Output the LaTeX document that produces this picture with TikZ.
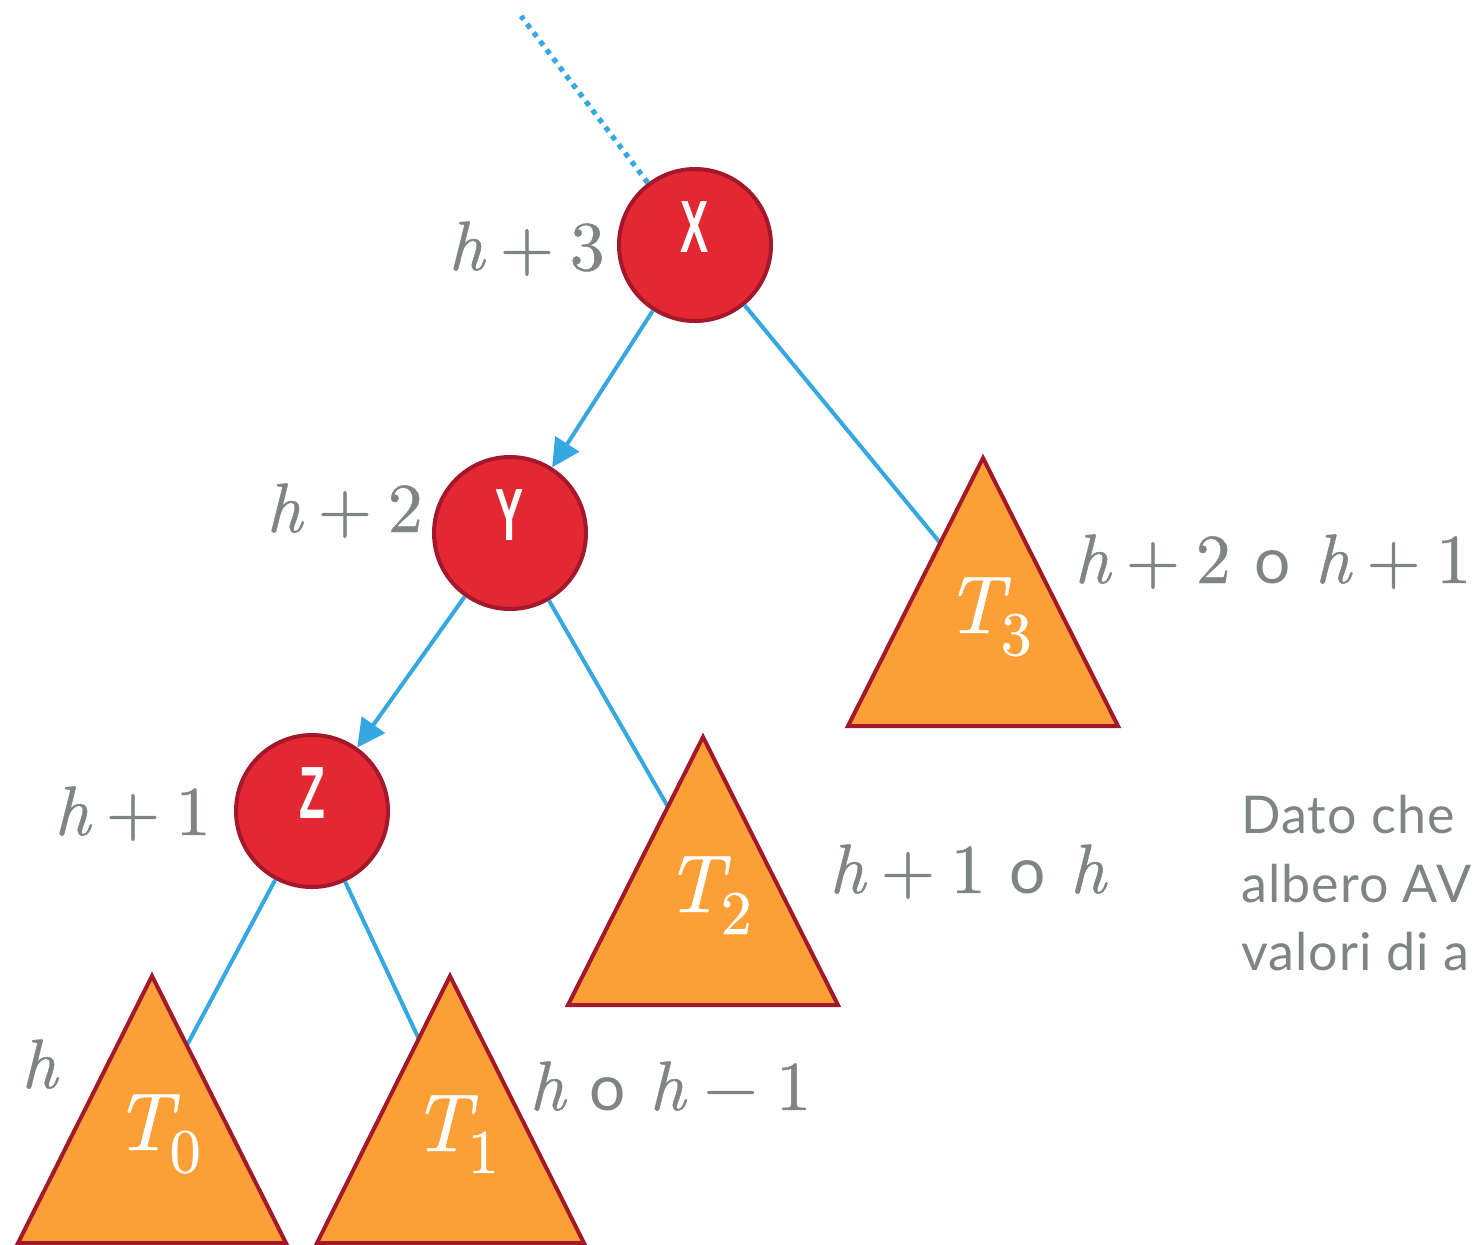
\documentclass[tikz,border=0pt]{standalone}
\usepackage{fontspec}
\usepackage{graphicx}
\newfontfamily\latofont{Lato}
\newfontfamily\notefont[LetterSpace=2]{Lato}
\newfontfamily\condfont{Liberation Sans}
\newfontfamily\labrm[FakeBold=0.6]{lmroman10-regular.otf}
\newfontfamily\labit[FakeBold=0.6]{lmroman10-italic.otf}
\usetikzlibrary{arrows.meta,calc}
\definecolor{nodered}{HTML}{E32733}
\definecolor{darkred}{HTML}{A3182A}
\definecolor{triorange}{HTML}{FC9F36}
\definecolor{edgeblue}{HTML}{35A8E0}
\definecolor{labgray}{HTML}{7F8485}
\newcommand\vlet[1]{\scalebox{0.57}[1]{#1}}
\newcommand\hh{{\labit h}}
\newcommand\pl{\hspace{0.222em}+\hspace{0.222em}}
\newcommand\mn{\hspace{0.26em}−\hspace{0.26em}}
\newcommand\orword{\hspace{12pt}{\latofont\fontsize{32}{32}\selectfont o}\hspace{12pt}}
\newcommand\tsub[1]{{\labit T}\kern-0.03em\raisebox{-11pt}{\fontsize{31}{31}\selectfont #1}}
\begin{document}
\begin{tikzpicture}[x=0.5pt,y=-0.5pt,
  vert/.style={circle, draw=darkred, fill=nodered, line width=2pt, minimum size=76pt, inner sep=0},
  vletter/.style={text=white, inner sep=0, font=\condfont\bfseries\fontsize{37}{37}\selectfont},
  tri/.style={draw=darkred, fill=triorange, line width=2pt, line join=miter},
  tlabel/.style={text=white, inner sep=0, anchor=base west, font=\labrm\fontsize{41}{41}\selectfont},
  hlabel/.style={text=labgray, inner sep=0, anchor=base west, font=\labrm\fontsize{35}{35}\selectfont},
  treeedge/.style={draw=edgeblue, line width=2pt},
  arrowedge/.style={treeedge, -{Triangle[length=14pt,width=14pt]}},
  dotedge/.style={draw=edgeblue, line width=2.6pt, dash pattern=on 2.6pt off 2.8pt},
  note/.style={text=labgray, inner sep=0, anchor=base west, font=\notefont\fontsize{26}{26}\selectfont}]
\useasboundingbox (0,0) rectangle (1476,1244);
\clip (0,0) rectangle (1476,1244);

% triangle corners
\coordinate (T3a) at (983,458);  \coordinate (T3l) at (848,726);  \coordinate (T3r) at (1118,726);
\coordinate (T2a) at (703,737);  \coordinate (T2l) at (568,1005); \coordinate (T2r) at (838,1005);
\coordinate (T0a) at (152,976);  \coordinate (T0l) at (18,1243);  \coordinate (T0r) at (286,1243);
\coordinate (T1a) at (450,976);  \coordinate (T1l) at (317,1243); \coordinate (T1r) at (584,1243);

% circles
\node[vert] (X) at (695,245) {};
\node[vert] (Y) at (510,533) {};
\node[vert] (Z) at (312,811) {};

% edge entry points on triangles
\coordinate (t3in) at ($(T3a)!0.317!(T3l)$);
\coordinate (t2in) at ($(T2a)!0.26!(T2l)$);
\coordinate (t0in) at ($(T0a)!0.26!(T0r)$);
\coordinate (t1in) at ($(T1a)!0.235!(T1l)$);
\coordinate (topend) at (521,16);

% connectors
\draw[dotedge] (X) -- (topend);
\draw[arrowedge] (X) -- (Y);
\draw[treeedge] (X) -- (t3in);
\draw[arrowedge] (Y) -- (Z);
\draw[treeedge] (Y) -- (t2in);
\draw[treeedge] (Z) -- (t0in);
\draw[treeedge] (Z) -- (t1in);

% triangles
\draw[tri] (T3a) -- (T3r) -- (T3l) -- cycle;
\draw[tri] (T2a) -- (T2r) -- (T2l) -- cycle;
\draw[tri] (T0a) -- (T0r) -- (T0l) -- cycle;
\draw[tri] (T1a) -- (T1r) -- (T1l) -- cycle;

% circle letters
\node[vletter] (Xl) at ([yshift=9pt]X.center) {\vlet{X}};
\node[vletter] (Yl) at ([yshift=9pt]Y.center) {\vlet{Y}};
\node[vletter] (Zl) at ([yshift=9pt]Z.center) {\vlet{Z}};

% triangle labels
\node[tlabel] (T3) at (944,633) {\tsub{3}};
\node[tlabel] (T2) at (664,912) {\tsub{2}};
\node[tlabel] (T0) at (113,1150) {\tsub{0}};
\node[tlabel] (T1) at (411,1151) {\tsub{1}};

% height labels
\node[hlabel] (hX) at (448,270) {\hh\pl 3};
\node[hlabel] (hY) at (266,532) {\hh\pl 2};
\node[hlabel] (hZ) at (54,835) {\hh\pl 1};
\node[hlabel] (hT0) at (21,1088) {\hh};
\node[hlabel] (hT1) at (529,1110) {\hh\orword\hh\mn 1};
\node[hlabel] (hT2) at (829,893) {\hh\pl 1\orword\hh};
\node[hlabel] (hT3) at (1074,583) {\hh\pl 2\orword\hh\pl 1};

% side note
\node[note] (n1) at (1241,833) {Dato che};
\node[note] (n2) at (1241,902) {albero AV};
\node[note] (n3) at (1241,970) {valori di a};
\end{tikzpicture}
\end{document}
